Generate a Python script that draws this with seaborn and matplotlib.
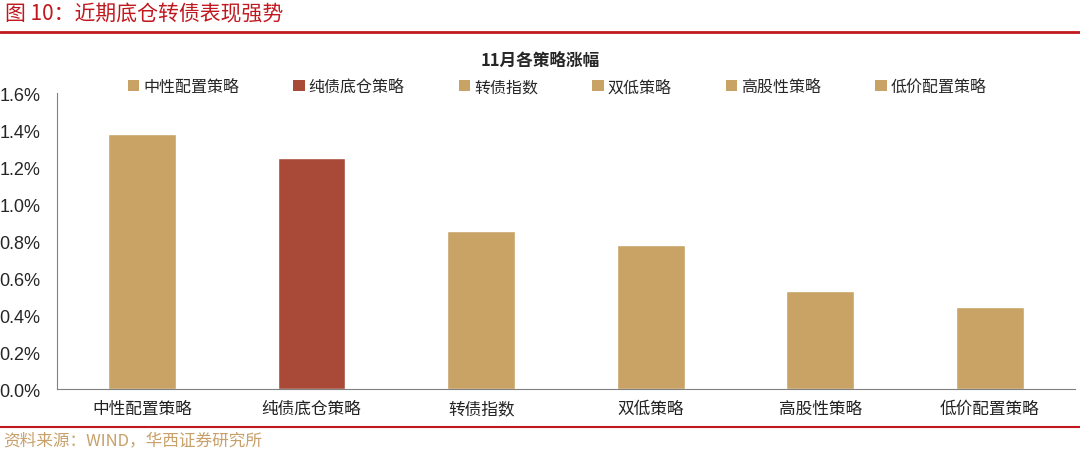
import numpy as np
import pandas as pd
from matplotlib import pyplot as plt
from matplotlib.patches import Patch
from matplotlib.ticker import FuncFormatter, FixedLocator
import seaborn as sns

# 数据
strategies = ['中性配置策略', '纯债底仓策略', '转债指数', '双低策略', '高股性策略', '低价配置策略']
returns = [1.38, 1.25, 0.855, 0.778, 0.53, 0.443]  # %

tan = '#C9A265'
red = '#A94A38'
palette = {s: tan for s in strategies}
palette['纯债底仓策略'] = red

sns.set_style("white")
plt.rcParams['font.family'] = ['Noto Sans CJK SC', 'DejaVu Sans']

df = pd.DataFrame({'strategy': strategies, 'ret': returns})

fig = plt.figure(figsize=(10.8, 4.52), dpi=100)
ax = fig.add_axes([0.053, 0.137, 0.942, 0.655])

sns.barplot(data=df, x='strategy', y='ret', hue='strategy', palette=palette,
            order=strategies, hue_order=strategies, width=0.4, legend=False,
            saturation=1, ax=ax)

ax.set_ylim(0, 1.6)
ax.set_yticks(np.arange(0, 1.61, 0.2))
ax.yaxis.set_major_formatter(FuncFormatter(lambda v, p: f'{v:.1f}%'))
ax.set_xlim(-0.5, len(strategies) - 0.5)
ax.set_xlabel('')
ax.set_ylabel('')
ax.tick_params(axis='y', labelsize=13, direction='in', length=4, color='#808080', pad=12)
for lab in ax.get_yticklabels():
    lab.set_fontfamily(['Liberation Sans', 'DejaVu Sans'])
ax.tick_params(axis='x', which='major', labelsize=12, length=0, pad=8)
ax.xaxis.set_minor_locator(FixedLocator(np.arange(0.5, len(strategies) - 0.5, 1)))
ax.tick_params(axis='x', which='minor', direction='in', length=4, color='#808080')
for lab in ax.get_xticklabels():
    lab.set_color('#222222')
sns.despine(ax=ax)
ax.spines['left'].set_color('#808080')
ax.spines['bottom'].set_color('#808080')

# 图例
handles = [Patch(facecolor=palette[s], edgecolor='none', label=s) for s in strategies]
fig.legend(handles=handles, loc='center', bbox_to_anchor=(0.516, 0.806), ncol=6,
           frameon=False, fontsize=11.5, handlelength=0.7, handleheight=0.7,
           handletextpad=0.25, columnspacing=3.4)

# 图内标题
fig.text(0.5, 0.865, '11月各策略涨幅', ha='center', va='center', fontsize=12, fontweight='bold')

# 顶部标题和红线
fig.text(0.005, 0.968, '图 10：近期底仓转债表现强势', ha='left', va='center', fontsize=15, color='#C0181E')
fig.add_artist(plt.Line2D([0, 1], [0.927, 0.927], color='#C0181E', lw=2, transform=fig.transFigure))
fig.add_artist(plt.Line2D([0, 1], [0.053, 0.053], color='#C0181E', lw=1.5, transform=fig.transFigure))
fig.text(0.003, 0.024, '资料来源：WIND，华西证券研究所', ha='left', va='center', fontsize=12, color='#C8A06A')

plt.savefig('out.png', dpi=100)
